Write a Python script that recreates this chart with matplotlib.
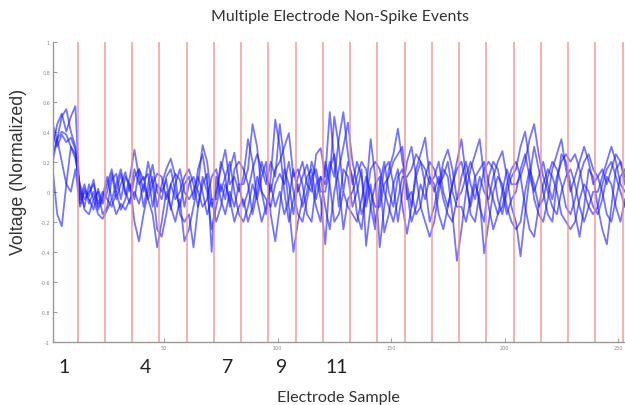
import numpy as np
import matplotlib
matplotlib.use('Agg')
import matplotlib.pyplot as plt
import matplotlib.transforms as mtransforms

# voltage traces in hundredths, one value every 2 samples (samples 1, 3, ..., 253)
trace_1 = [30, 45, 52, 40, 50, 57, -5, 5, -8, 0, -12, -5, 5, 15, 0, 12, -2, 10,
           28, 10, -10, 5, 18, 0, -5, 10, 15, 0, -10, 5, 10, -5, 15, 25, 5, -10,
           0, 15, 28, 5, 10, 0, 10, 35, 20, -5, 10, 20, -15, -33, -10, 15, 5, -15,
           5, -10, 0, 20, 10, -5, -35, 10, 50, 30, 0, 20, 10, -15, -25, 0, 35, 10,
           -37, -10, 15, 25, 42, 20, 5, -10, 10, 20, 5, -20, -10, 5, 20, 28, 15, -5,
           10, 20, 5, -5, 10, 0, -5, 10, 20, 27, 10, -10, -20, -43, -15, 10, 30, 15,
           0, -15, -20, 5, 25, 20, 5, -15, -30, -10, 15, 10, -10, -25, -35, -10, 15, 20, 10]
trace_2 = [20, 35, 50, 55, 40, 30, 0, -10, 5, -5, 0, -15, -10, 8, 12, -5, 10, 5,
           -20, -33, -15, 0, 10, -10, 5, 15, 22, 10, -15, -20, -15, -37, -10, 10, 0, -25,
           -10, 5, -5, 15, 26, 5, 5, 15, 45, 30, 0, -15, 10, 48, 30, 0, -20, -5,
           10, 20, 5, 0, 25, 29, 10, 53, 20, -10, 15, 10, -10, 0, 15, -36, -10, 5,
           10, -27, -15, 5, 15, -10, -28, -10, 15, 25, 36, 10, 5, -15, -25, -10, 5, 20,
           35, 10, -15, -20, 0, 15, 20, 15, -5, -15, 0, 10, 15, 30, 40, 20, -5, -15,
           -20, -5, 15, 25, 35, 15, 0, 10, 20, 30, 20, 5, 10, 0, -15, -20, -5, 10, 15]
trace_3 = [40, 30, 38, 33, 36, 28, -8, 2, -3, 8, -10, -3, 10, -5, 5, 15, 0, -8,
           10, 15, 0, 20, 5, -25, -30, -15, 5, -5, 0, 10, 15, 5, -10, 5, 12, -40,
           10, -5, -15, 0, -10, 5, -10, 0, 15, 25, 15, 5, 20, 10, 45, 20, -10, -40,
           -20, -5, 10, 15, -5, 10, 5, 20, 10, 35, 53, 25, 5, 20, 10, -10, 5, -20,
           -5, 15, 20, 5, -20, 0, 20, 30, 10, -10, -20, -30, -20, 0, 15, 10, -15, -46,
           -25, 0, 15, 25, 35, 10, -10, -25, -15, 0, 15, 5, 5, 10, 20, 35, 45, 25,
           10, 0, -10, -15, 0, 10, 15, 5, -10, -20, -10, 0, 0, 10, 20, 30, 20, 5, 0]
trace_4 = [15, -15, -23, 5, 30, 25, 3, -12, -15, -5, -15, -18, -12, -5, -15, -8, -12, -5,
           0, -8, 5, -5, -15, -37, -20, 0, -10, -20, -5, -33, -25, -10, 5, 31, 20, -5,
           -5, 20, 10, -10, 15, 20, 15, 5, -15, 0, 20, 10, 0, 15, 20, 30, 39, 10,
           15, 5, -15, -20, 5, 10, -10, -25, 0, 15, 30, 46, 20, 5, -15, -5, 15, 20,
           15, 0, -10, -20, -5, 10, 10, 15, 25, 20, 15, 5, 10, 20, 0, -10, 5, 15,
           20, 5, -10, 5, -5, -41, -20, 0, 10, 5, -10, -20, -25, -20, 0, 15, 5, -10,
           -5, 10, 20, 15, 5, -10, -15, -5, 10, 20, 25, 15, 10, 15, 5, 15, 25, 20, 5]
trace_5 = [45, 35, 20, 5, 0, 15, -10, 0, -5, -12, 2, -8, 0, 12, -5, 5, 13, 0,
           15, 5, 10, -5, 5, 12, 10, -5, 5, 12, 8, -10, 5, 10, 0, -10, -5, 10,
           15, 0, 10, 20, 0, -15, -20, -10, 5, -5, -20, -10, 5, -10, 0, -15, -5, 15,
           0, 10, 18, 5, -10, -20, 20, 5, -20, -15, 0, -10, -15, -20, -5, 10, 0, -10,
           -10, 5, 10, 20, 25, 30, -5, 0, -15, -10, 10, 20, 15, 5, 10, 20, 0, -10,
           -10, -20, -5, 10, 15, 20, 5, -5, -15, -10, 5, 15, 20, 10, -10, -25, -30, -10,
           5, 15, 10, 0, -15, -20, -25, -20, -5, 5, 0, -10, -15, -5, 10, 5, -10, -20, -5]
trace_6 = [25, 35, 40, 38, 30, 22, 5, -5, 0, 5, -8, 0, -5, -10, 0, -12, -5, 5,
           -5, 15, 8, 12, -10, 5, 0, 8, -12, 5, 15, 0, -5, 0, 10, 0, -15, -5,
           -20, -10, 5, -5, -20, -10, -5, -20, -10, 10, 0, -5, -10, 5, 12, 5, 20, 0,
           -15, -20, -5, 10, 15, 0, 0, 15, 25, 5, -25, -5, 0, 10, 20, 15, -10, -25,
           5, 20, 0, -10, 10, 15, 0, -20, -10, 5, -5, 10, 0, 10, -5, -15, -20, -5,
           0, 10, 20, 10, -10, -20, 10, 20, 15, 0, -15, -5, 0, 15, 25, 10, 0, 10,
           20, 5, -5, 10, 20, 25, 20, 25, 15, 0, -10, -15, -10, 5, 15, 20, 10, 0, -10]
traces = [trace_1, trace_2, trace_3, trace_4, trace_5, trace_6]
samples = np.arange(1, 254, 2)

# electrode boundaries every 12 samples
boundaries = np.arange(12, 253, 12)
electrode_labels = ['1', '4', '7', '9', '11']

fig = plt.figure(figsize=(6.25, 4.06), dpi=100, facecolor='white')
ax = fig.add_axes([0.0843, 0.1552, 0.9157, 0.7401])

for tr in traces:
    ax.plot(samples, np.array(tr) / 100.0, color='#1a1aff', alpha=0.6, linewidth=1.3,
            solid_joinstyle='round')

for b in boundaries:
    ax.axvline(b, color='#f08c8c', alpha=0.8, linewidth=1.2)

ax.set_xlim(1, 253)
ax.set_ylim(-1, 1)
ax.set_yticks(np.round(np.arange(-1, 1.01, 0.2), 1))
ax.set_yticklabels(['-1', '-0.8', '-0.6', '-0.4', '-0.2', '0', '0.2', '0.4', '0.6', '0.8', '1'])
ax.set_xticks([50, 100, 150, 200, 250])
ax.tick_params(direction='in', length=3, width=0.6, colors='#888888', labelsize=3.5, pad=2)

for pos in ('top', 'right'):
    ax.spines[pos].set_visible(False)
for pos in ('left', 'bottom'):
    ax.spines[pos].set_color('#999999')
    ax.spines[pos].set_linewidth(1)

# big electrode numbers under the axis
trans = mtransforms.blended_transform_factory(ax.transData, ax.transAxes)
for lab in electrode_labels:
    n = int(lab)
    ax.text(12 * (n - 1) + 6, -0.083, lab, transform=trans, ha='center', va='center',
            fontsize=14, family='Lato', color='#222222')

fig.text(0.544, 0.958, 'Multiple Electrode Non-Spike Events', ha='center', va='center',
         fontsize=11.4, family='Lato', color='#333333')
fig.text(0.541, 0.02, 'Electrode Sample', ha='center', va='center',
         fontsize=11.6, family='Lato', color='#333333')
fig.text(0.029, 0.576, 'Voltage (Normalized)', rotation=90, ha='center', va='center',
         fontsize=12.8, family='Liberation Sans', color='#333333')

plt.savefig('out.png', dpi=100)
